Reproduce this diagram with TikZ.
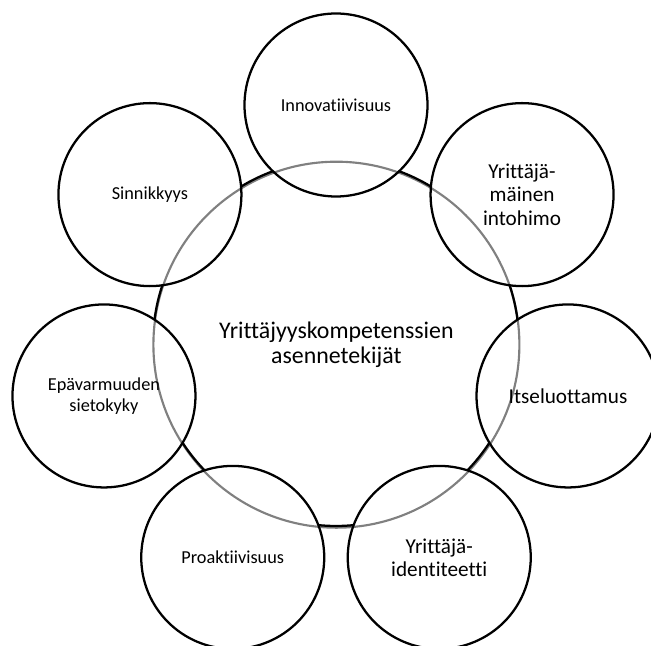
\documentclass[tikz,border=0pt]{standalone}
\usepackage{fontspec}
\setmainfont{Carlito}[RawFeature={-liga;-clig;-dlig;-calt;-rlig;-hlig}]
\definecolor{ringgray}{RGB}{128,128,128}
\begin{document}
\begin{tikzpicture}[x=0.75pt, y=0.75pt]
    \tikzstyle{trait}=[circle, draw=black, line width=1.7pt, minimum size=137.25pt, inner sep=0pt, align=center]
    \tikzstyle{txtsm}=[font=\fontsize{13.7}{15.6}\selectfont]
    \tikzstyle{txtlg}=[font=\fontsize{15.9}{17.4}\selectfont]
    \tikzstyle{cyclearc}=[draw=black, line width=1.7pt]
    \clip (-336,343) rectangle (315,-303);
    % hub
    \node[circle, draw=ringgray, line width=1.6pt, minimum size=274.5pt, inner sep=0pt, align=center,
      font=\fontsize{17.9}{19.3}\selectfont] (hub) at (0.4,-1.7) {Yrittäjyyskompetenssien\\asennetekijät};
    % arcs between the traits
    \coordinate (r1) at (69.8:183);
    \coordinate (r2) at (18.37:183);
    \coordinate (r3) at (-33.06:183);
    \coordinate (r4) at (-84.49:183);
    \coordinate (r5) at (-135.91:183);
    \coordinate (r6) at (172.66:183);
    \coordinate (r7) at (121.23:183);
    \draw[cyclearc] (r1) arc[start angle=69.8, delta angle=-11.03, radius=137.25pt];
    \draw[cyclearc] (r2) arc[start angle=18.37, delta angle=-11.03, radius=137.25pt];
    \draw[cyclearc] (r3) arc[start angle=-33.06, delta angle=-11.03, radius=137.25pt];
    \draw[cyclearc] (r4) arc[start angle=-84.49, delta angle=-11.03, radius=137.25pt];
    \draw[cyclearc] (r5) arc[start angle=-135.91, delta angle=-11.03, radius=137.25pt];
    \draw[cyclearc] (r6) arc[start angle=172.66, delta angle=-11.03, radius=137.25pt];
    \draw[cyclearc] (r7) arc[start angle=121.23, delta angle=-11.03, radius=137.25pt];
    % traits
    \node[trait, txtsm] (inno) at (90:238) {Innovatiivisuus};
    \node[trait, txtlg] (passion) at (38.571:238) {Yrittäjä-\\mäinen\\intohimo};
    \node[trait, txtlg] (trust) at (-12.857:238) {Itseluottamus};
    \node[trait, txtlg] (ident) at (-64.286:238) {Yrittäjä-\\identiteetti};
    \node[trait, txtsm] (proact) at (-115.714:238) {Proaktiivisuus};
    \node[trait, txtsm] (uncert) at (-167.143:238) {Epävarmuuden\\sietokyky};
    \node[trait, txtsm] (persist) at (141.429:238) {Sinnikkyys};
\end{tikzpicture}
\end{document}
